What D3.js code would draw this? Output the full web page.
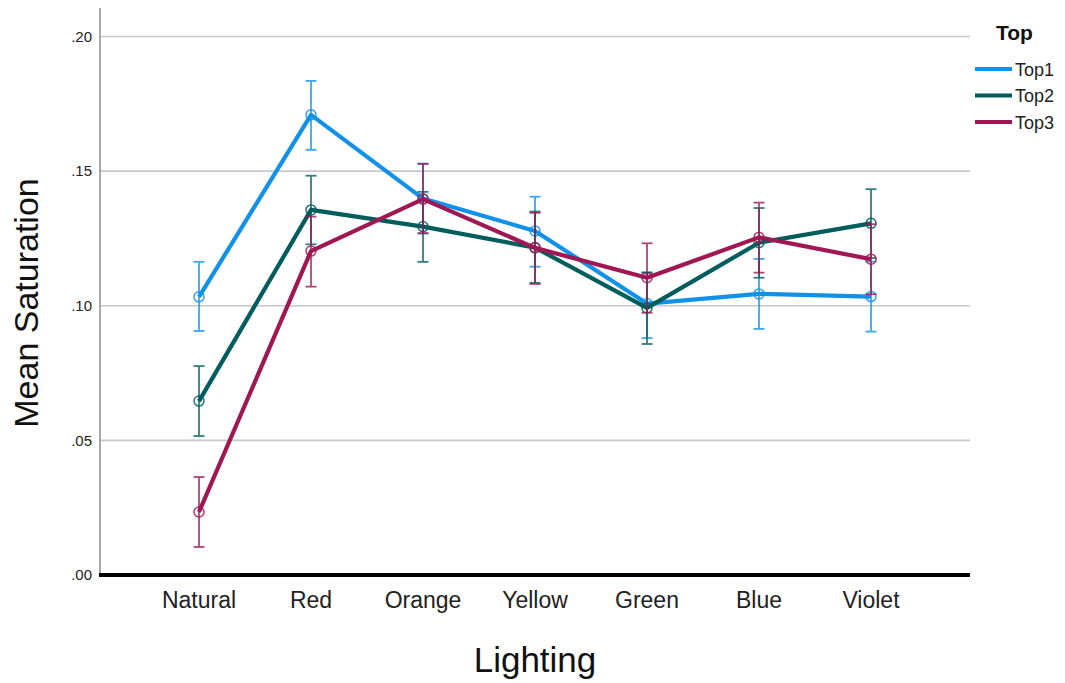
<!DOCTYPE html>
<html>
<head>
<meta charset="utf-8">
<script src="https://cdn.jsdelivr.net/npm/d3@7"></script>
<style>
  body { margin: 0; background: #fff; }
  svg { display: block; font-family: "Liberation Sans", Arial, sans-serif; }
</style>
</head>
<body>
<svg id="chart" width="1065" height="683"></svg>
<script>
// Lighting conditions on the x axis
const categories = ["Natural", "Red", "Orange", "Yellow", "Green", "Blue", "Violet"];
const seriesNames = ["Top1", "Top2", "Top3"];
const seriesColors = ["#1192e8", "#005d5d", "#9f1853"];

// Mean saturation per lighting condition
const top1Mean = [0.1033, 0.1709, 0.1398, 0.1278, 0.1008, 0.1044, 0.1034];
const top2Mean = [0.0646, 0.1356, 0.1294, 0.1216, 0.0992, 0.1234, 0.1306];
const top3Mean = [0.0234, 0.1203, 0.1396, 0.1215, 0.1104, 0.1254, 0.1173];

// Error bar bounds
const top1Low  = [0.0906, 0.1579, 0.1268, 0.1145, 0.0880, 0.0914, 0.0904];
const top1High = [0.1163, 0.1835, 0.1528, 0.1405, 0.1125, 0.1174, 0.1164];
const top2Low  = [0.0516, 0.1228, 0.1163, 0.1085, 0.0858, 0.1104, 0.1177];
const top2High = [0.0776, 0.1483, 0.1423, 0.1350, 0.1122, 0.1363, 0.1433];
const top3Low  = [0.0104, 0.1071, 0.1270, 0.1081, 0.0974, 0.1123, 0.1043];
const top3High = [0.0364, 0.1331, 0.1527, 0.1345, 0.1232, 0.1383, 0.1303];

const yTicks = [0, 0.05, 0.10, 0.15, 0.20];

const series = [
  { name: seriesNames[0], color: seriesColors[0], mean: top1Mean, lo: top1Low, hi: top1High },
  { name: seriesNames[1], color: seriesColors[1], mean: top2Mean, lo: top2Low, hi: top2High },
  { name: seriesNames[2], color: seriesColors[2], mean: top3Mean, lo: top3Low, hi: top3High }
];

const svg = d3.select("#chart");
const plot = { left: 100, right: 970, top: 8, bottom: 575 };

const x = d3.scaleBand().domain(categories).range([143, 927]);
const xc = c => x(c) + x.bandwidth() / 2;
const y = d3.scaleLinear().domain([0, 0.2]).range([575, 36.5]);

// Horizontal gridlines
svg.append("g")
  .selectAll("line")
  .data(yTicks.filter(t => t > 0))
  .join("line")
  .attr("x1", plot.left).attr("x2", plot.right)
  .attr("y1", d => y(d)).attr("y2", d => y(d))
  .attr("stroke", "#c8c8c8").attr("stroke-width", 1.6);

// Y axis
const yAxis = svg.append("g")
  .attr("transform", `translate(${plot.left},0)`)
  .call(d3.axisLeft(y).tickValues(yTicks).tickSize(0).tickPadding(8)
    .tickFormat(d => d3.format(".2f")(d).replace(/^0/, "")));
yAxis.select(".domain").remove();
yAxis.selectAll("text").attr("font-size", 15).attr("fill", "#222")
  .attr("font-family", "'Liberation Sans', Arial, sans-serif");
svg.append("line")
  .attr("x1", plot.left).attr("x2", plot.left)
  .attr("y1", plot.top).attr("y2", plot.bottom)
  .attr("stroke", "#8c8c8c").attr("stroke-width", 1.5);

// X axis
const xAxis = svg.append("g")
  .attr("transform", `translate(0,${plot.bottom})`)
  .call(d3.axisBottom(x).tickSize(0).tickPadding(17));
xAxis.select(".domain").remove();
xAxis.selectAll("text").attr("font-size", 23).attr("fill", "#222")
  .attr("font-family", "'Liberation Sans', Arial, sans-serif");
svg.append("line")
  .attr("x1", plot.left - 1).attr("x2", plot.right)
  .attr("y1", plot.bottom).attr("y2", plot.bottom)
  .attr("stroke", "#000").attr("stroke-width", 4);

// Axis titles
svg.append("text")
  .attr("x", 535).attr("y", 672)
  .attr("text-anchor", "middle")
  .attr("font-size", 35).attr("fill", "#111")
  .text("Lighting");
svg.append("text")
  .attr("transform", "translate(38,303) rotate(-90)")
  .attr("text-anchor", "middle")
  .attr("font-size", 34).attr("fill", "#111")
  .text("Mean Saturation");

// Series: lines, error bars, circle markers
const line = d3.line().x((d, i) => xc(categories[i])).y(d => y(d));
const capHalf = 5.5;

series.forEach(s => {
  const g = svg.append("g");
  g.append("path")
    .datum(s.mean)
    .attr("d", line)
    .attr("fill", "none")
    .attr("stroke", s.color)
    .attr("stroke-width", 4.2)
    .attr("stroke-linejoin", "round");

  const eb = g.append("g").attr("stroke", s.color).attr("stroke-width", 1.8).attr("opacity", 0.8);
  categories.forEach((c, i) => {
    const cx = xc(c);
    eb.append("line").attr("x1", cx).attr("x2", cx).attr("y1", y(s.lo[i])).attr("y2", y(s.hi[i]));
    eb.append("line").attr("x1", cx - capHalf).attr("x2", cx + capHalf).attr("y1", y(s.lo[i])).attr("y2", y(s.lo[i]));
    eb.append("line").attr("x1", cx - capHalf).attr("x2", cx + capHalf).attr("y1", y(s.hi[i])).attr("y2", y(s.hi[i]));
  });

  g.selectAll("circle")
    .data(s.mean)
    .join("circle")
    .attr("cx", (d, i) => xc(categories[i]))
    .attr("cy", d => y(d))
    .attr("r", 5)
    .attr("fill", "none")
    .attr("stroke", s.color)
    .attr("stroke-width", 1.5)
    .attr("opacity", 0.85);
});

// Legend
const legend = svg.append("g");
legend.append("text")
  .attr("x", 996).attr("y", 40)
  .attr("font-size", 21).attr("font-weight", "bold").attr("fill", "#111")
  .text("Top");
series.forEach((s, i) => {
  const ly = 69 + i * 26.5;
  legend.append("line")
    .attr("x1", 975).attr("x2", 1012)
    .attr("y1", ly).attr("y2", ly)
    .attr("stroke", s.color).attr("stroke-width", 4.2);
  legend.append("text")
    .attr("x", 1015).attr("y", ly + 6.5)
    .attr("font-size", 18).attr("fill", "#222")
    .text(s.name);
});
</script>
</body>
</html>
